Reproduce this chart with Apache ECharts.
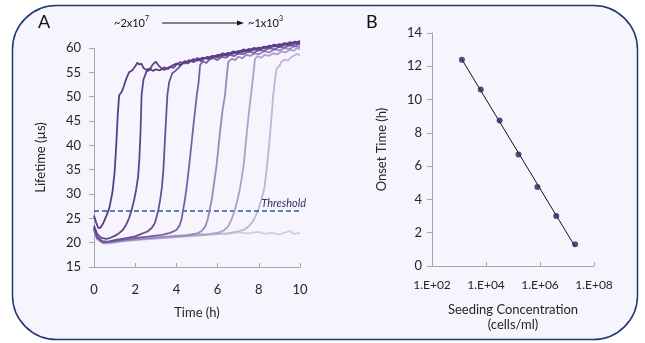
<!DOCTYPE html>
<html>
<head>
<meta charset="utf-8">
<script src="https://cdn.jsdelivr.net/npm/echarts@6/dist/echarts.min.js"></script>
<style>
  html, body { margin: 0; padding: 0; background: #fff; }
  #chart { width: 645px; height: 343px; }
</style>
</head>
<body>
<div id="chart"></div>
<script>
// Panel A: lifetime curves [time (h), lifetime (µs)], highest to lowest seeding
const curve1 = [[0,25.6],[0.1,24.2],[0.2,23.1],[0.3,23.0],[0.45,24.0],[0.6,25.5],[0.75,27.2],[0.9,30.5],[1.0,34.5],[1.08,40],[1.15,46],[1.22,50.3],[1.35,51],[1.45,52.2],[1.55,53.5],[1.7,55],[1.85,55.4],[2.0,56.2],[2.1,57],[2.2,56.6],[2.3,56.8],[2.4,55.9],[2.55,55.5],[2.7,55.8],[2.85,55.3],[3.0,55.6],[3.2,55.4],[3.4,56.0],[3.6,55.7],[3.8,56.4],[4.0,56.8],[4.2,56.5],[4.4,57.3],[4.6,57.0],[4.8,57.7],[5.0,57.4],[5.25,58.0],[5.5,57.8],[5.75,58.4],[6.0,58.3],[6.25,58.9],[6.5,58.6],[6.75,59.3],[7.0,59.1],[7.25,59.7],[7.5,59.4],[7.75,60.0],[8.0,59.8],[8.25,60.3],[8.5,60.2],[8.75,60.7],[9.0,60.4],[9.25,61.0],[9.5,60.8],[9.75,61.3],[10,61.0]];
const curve2 = [[0,23.5],[0.15,21.8],[0.35,21.0],[0.6,20.8],[0.8,21.0],[1.0,21.4],[1.2,21.9],[1.4,22.6],[1.55,23.6],[1.7,25.0],[1.82,26.6],[1.95,28.8],[2.05,31],[2.14,33.5],[2.2,37],[2.26,43],[2.31,50.3],[2.4,53.5],[2.55,55.2],[2.7,55.5],[2.85,56.6],[3.0,57.2],[3.1,56.6],[3.25,55.9],[3.4,55.5],[3.55,55.8],[3.7,56.2],[3.85,55.9],[4.0,56.6],[4.2,57.1],[4.4,56.8],[4.6,57.5],[4.8,57.2],[5.0,57.9],[5.25,57.6],[5.5,58.2],[5.75,58.0],[6.0,58.6],[6.25,58.4],[6.5,59.0],[6.75,58.8],[7.0,59.4],[7.25,59.2],[7.5,59.8],[7.75,59.6],[8.0,60.1],[8.25,59.9],[8.5,60.5],[8.75,60.3],[9.0,60.8],[9.25,60.6],[9.5,61.2],[9.75,60.9],[10,61.5]];
const curve3 = [[0,23],[0.15,21.2],[0.4,20.3],[0.7,20.2],[1.0,20.5],[1.5,20.9],[2.0,21.3],[2.3,21.8],[2.6,22.3],[2.8,23.0],[2.95,24.0],[3.05,25.5],[3.12,26.6],[3.22,29],[3.3,31.5],[3.37,35],[3.43,40],[3.5,45.5],[3.56,50.3],[3.65,53],[3.8,54.8],[3.95,55.3],[4.1,55.9],[4.25,56.6],[4.4,57.2],[4.55,56.8],[4.7,57.4],[4.85,57.1],[5.0,57.7],[5.2,57.3],[5.4,58.0],[5.6,57.7],[5.8,58.3],[6.0,58.0],[6.25,58.6],[6.5,58.4],[6.75,59.1],[7.0,58.8],[7.25,59.4],[7.5,59.2],[7.75,59.8],[8.0,59.5],[8.25,60.1],[8.5,59.9],[8.75,60.5],[9.0,60.2],[9.25,60.8],[9.5,60.5],[9.75,61.0],[10,60.7]];
const curve4 = [[0,23],[0.15,21],[0.45,20.1],[0.8,20.2],[1.5,20.7],[2.5,21.2],[3.3,21.6],[3.7,22.0],[4.0,22.6],[4.15,23.5],[4.25,24.8],[4.32,26.6],[4.42,29],[4.5,31.5],[4.57,34],[4.65,37],[4.75,41],[4.85,45],[4.99,50.3],[5.08,53],[5.15,56.5],[5.3,57.3],[5.45,56.9],[5.6,57.6],[5.8,57.9],[6.0,57.5],[6.2,58.2],[6.4,58.0],[6.6,58.6],[6.8,58.3],[7.0,58.9],[7.25,58.7],[7.5,59.3],[7.75,59.0],[8.0,59.6],[8.25,59.4],[8.5,60.0],[8.75,59.7],[9.0,60.3],[9.25,60.1],[9.5,60.6],[9.75,60.4],[10,60.9]];
const curve5 = [[0,22.8],[0.15,20.9],[0.45,20.0],[0.8,20.1],[1.5,20.5],[2.5,20.9],[3.5,21.2],[4.5,21.5],[5.0,21.9],[5.2,22.3],[5.4,23.3],[5.52,24.8],[5.61,26.6],[5.72,29],[5.82,32],[5.94,35.5],[6.05,40],[6.15,44],[6.25,47.5],[6.36,50.3],[6.44,54],[6.52,57.2],[6.7,57.8],[6.85,57.5],[7.0,58.2],[7.2,57.9],[7.4,58.6],[7.6,58.4],[7.8,58.9],[8.0,58.7],[8.25,59.3],[8.5,59.1],[8.75,59.7],[9.0,59.5],[9.25,60.0],[9.5,59.8],[9.75,60.4],[10,60.2]];
const curve6 = [[0,22.6],[0.15,20.8],[0.45,19.9],[0.8,20.0],[1.5,20.4],[2.5,20.8],[3.5,21.1],[4.5,21.4],[5.5,21.7],[6.0,22.0],[6.3,22.5],[6.5,23.3],[6.65,24.5],[6.75,25.6],[6.83,26.6],[6.95,28.5],[7.08,31],[7.18,33.5],[7.28,36.5],[7.38,41],[7.5,46],[7.62,50.3],[7.72,54],[7.82,57.8],[7.95,58.3],[8.1,58.0],[8.3,58.6],[8.5,58.4],[8.7,58.9],[8.9,58.7],[9.1,59.3],[9.3,59.1],[9.5,59.6],[9.7,59.4],[9.85,60.0],[10,59.7]];
const curve7 = [[0,22.5],[0.15,20.7],[0.45,19.8],[0.8,19.9],[1.5,20.3],[2.5,20.7],[3.5,21.0],[4.5,21.3],[5.5,21.6],[6.5,21.9],[7.0,22.3],[7.3,22.7],[7.5,23.3],[7.7,24.3],[7.85,25.5],[7.96,26.6],[8.1,28.5],[8.2,30],[8.28,31.5],[8.38,35],[8.5,40],[8.6,45],[8.7,50.3],[8.8,54],[8.87,55.8],[9.0,56.3],[9.1,57.2],[9.25,57.6],[9.4,57.4],[9.6,58.2],[9.75,58.5],[9.85,58.8],[10,58.4]];
const curve8 = [[0,22.5],[0.15,21],[0.4,20.2],[0.7,20.1],[1,20.4],[1.5,20.7],[2,21.0],[2.5,21.1],[3,21.3],[3.5,21.3],[4,21.5],[4.5,21.6],[5,21.8],[5.5,21.7],[6,22.0],[6.5,21.8],[7,22.1],[7.5,21.9],[8,22.2],[8.3,21.8],[8.6,22.0],[9,21.7],[9.3,22.1],[9.5,22.4],[9.7,21.8],[10,22.0]];
const curveColors = ['#5a3d87', '#62458e', '#6c5097', '#7b60a6', '#9b88bd', '#ada0c9', '#bfb5d5', '#d3cce1'];
const threshold = 26.5;

// Panel B: onset time vs seeding concentration
const seedConc = [1.28e3, 6.4e3, 3.2e4, 1.6e5, 8e5, 4e6, 2e7];
const onsetTime = [12.4, 10.6, 8.75, 6.7, 4.75, 3.0, 1.3];

const timeTicks = { min: 0, max: 10, interval: 2 };
const lifeTicks = { min: 15, max: 60, interval: 5 };
const onsetTicks = { min: 0, max: 14, interval: 2 };

// least-squares fit of onset time against log10(concentration)
const fitLine = (() => {
  const xs = seedConc.map(v => Math.log10(v));
  const n = xs.length;
  const mx = xs.reduce((a, b) => a + b, 0) / n;
  const my = onsetTime.reduce((a, b) => a + b, 0) / n;
  let sxy = 0, sxx = 0;
  xs.forEach((x, i) => { sxy += (x - mx) * (onsetTime[i] - my); sxx += (x - mx) * (x - mx); });
  const b = sxy / sxx, a = my - b * mx;
  const lo = Math.min(...seedConc), hi = Math.max(...seedConc);
  return [[lo, a + b * Math.log10(lo)], [hi, a + b * Math.log10(hi)]];
})();

const font = 'Lato, "Open Sans", sans-serif';
const axisGray = '#a6a6a6';
const textColor = '#262626';

const chart = echarts.init(document.getElementById('chart'));

const curves = [curve1, curve2, curve3, curve4, curve5, curve6, curve7, curve8];
const curveSeries = curves.slice().reverse().map((d, k) => {
  const i = curves.length - 1 - k;
  return {
    type: 'line', xAxisIndex: 0, yAxisIndex: 0,
    data: d, showSymbol: false, smooth: false, clip: false,
    lineStyle: { color: curveColors[i], width: 1.8 },
    z: 3 + k
  };
});

const supRich = {
  a: { fontSize: 11, fontFamily: font, lineHeight: 14, verticalAlign: 'bottom' },
  s: { fontSize: 7, fontFamily: font, lineHeight: 14, verticalAlign: 'top', padding: [0, 0, 4, 0] }
};

const option = {
  backgroundColor: '#ffffff',
  animation: false,
  textStyle: { fontFamily: font },
  graphic: [
    { type: 'rect', z: -10, silent: true,
      shape: { x: 12.5, y: 5.5, width: 625, height: 334, r: 44 },
      style: { fill: '#f6f5fd', stroke: '#1f3a6e', lineWidth: 1.5 } },
    { type: 'text', left: 38, top: 13, style: { text: 'A', font: '18px ' + font, fill: '#111' } },
    { type: 'text', left: 366, top: 13, style: { text: 'B', font: '18px ' + font, fill: '#111' } },
    { type: 'text', left: 114, top: 15, style: { text: '{a|~2x10}{s|7}', fill: '#111', rich: supRich } },
    { type: 'text', left: 248, top: 15, style: { text: '{a|~1x10}{s|3}', fill: '#111', rich: supRich } },
    { type: 'line', shape: { x1: 162, y1: 23, x2: 239, y2: 23 }, style: { stroke: '#111', lineWidth: 1 } },
    { type: 'polygon', shape: { points: [[237, 20.5], [244, 23], [237, 25.5]] }, style: { fill: '#111' } }
  ],
  grid: [
    { left: 94, top: 48, width: 206, height: 219 },
    { left: 432, top: 33, width: 162, height: 233 }
  ],
  xAxis: [
    { type: 'value', gridIndex: 0, min: timeTicks.min, max: timeTicks.max, interval: timeTicks.interval,
      name: 'Time (h)', nameLocation: 'middle', nameGap: 39,
      nameTextStyle: { fontSize: 13, color: textColor, fontFamily: font },
      axisLine: { lineStyle: { color: axisGray } },
      axisTick: { inside: true, length: 4, lineStyle: { color: axisGray } },
      axisLabel: { fontSize: 13, color: textColor, margin: 16, fontFamily: font },
      splitLine: { show: false } },
    { type: 'log', gridIndex: 1, logBase: 100, min: 1e2, max: 1e8,
      name: 'Seeding Concentration\n(cells/ml)', nameLocation: 'middle', nameGap: 36,
      nameTextStyle: { fontSize: 13, color: textColor, fontFamily: font, lineHeight: 15, align: 'center' },
      axisLine: { lineStyle: { color: axisGray } },
      axisTick: { inside: true, length: 4, lineStyle: { color: axisGray } },
      axisLabel: { fontSize: 12, color: textColor, margin: 13, fontFamily: font,
        formatter: v => '1.E+' + String(Math.round(Math.log10(v))).padStart(2, '0') },
      minorTick: { show: false },
      splitLine: { show: false } }
  ],
  yAxis: [
    { type: 'value', gridIndex: 0, min: lifeTicks.min, max: lifeTicks.max, interval: lifeTicks.interval,
      name: 'Lifetime (µs)', nameLocation: 'middle', nameGap: 47, nameRotate: 90,
      nameTextStyle: { fontSize: 13, color: textColor, fontFamily: font },
      axisLine: { show: true, lineStyle: { color: axisGray } },
      axisTick: { show: true, length: 5, lineStyle: { color: axisGray } },
      axisLabel: { fontSize: 13, color: textColor, margin: 13, fontFamily: font },
      splitLine: { show: false } },
    { type: 'value', gridIndex: 1, min: onsetTicks.min, max: onsetTicks.max, interval: onsetTicks.interval,
      name: 'Onset Time (h)', nameLocation: 'middle', nameGap: 44, nameRotate: 90,
      nameTextStyle: { fontSize: 13, color: textColor, fontFamily: font },
      axisLine: { show: true, lineStyle: { color: axisGray } },
      axisTick: { show: true, length: 5, lineStyle: { color: axisGray } },
      axisLabel: { fontSize: 13, color: textColor, margin: 10, fontFamily: font },
      splitLine: { show: false } }
  ],
  series: [
    ...curveSeries,
    { type: 'line', xAxisIndex: 0, yAxisIndex: 0, data: [], z: 20,
      markLine: { silent: true, symbol: 'none',
        lineStyle: { color: '#2f5597', type: [5, 3], width: 1.5 },
        label: { show: true, position: 'insideEndTop', formatter: 'Threshold', fontStyle: 'italic',
          fontSize: 11, color: '#3f2a66', fontFamily: font, distance: [-6, 2] },
        data: [{ yAxis: threshold }] } },
    { type: 'line', xAxisIndex: 1, yAxisIndex: 1, data: fitLine, showSymbol: false,
      lineStyle: { color: '#111', width: 1 }, z: 5 },
    { type: 'scatter', xAxisIndex: 1, yAxisIndex: 1, symbolSize: 6,
      data: seedConc.map((c, i) => [c, onsetTime[i]]),
      itemStyle: { color: '#1b2a5c' }, z: 6 }
  ]
};

chart.setOption(option);
</script>
</body>
</html>
